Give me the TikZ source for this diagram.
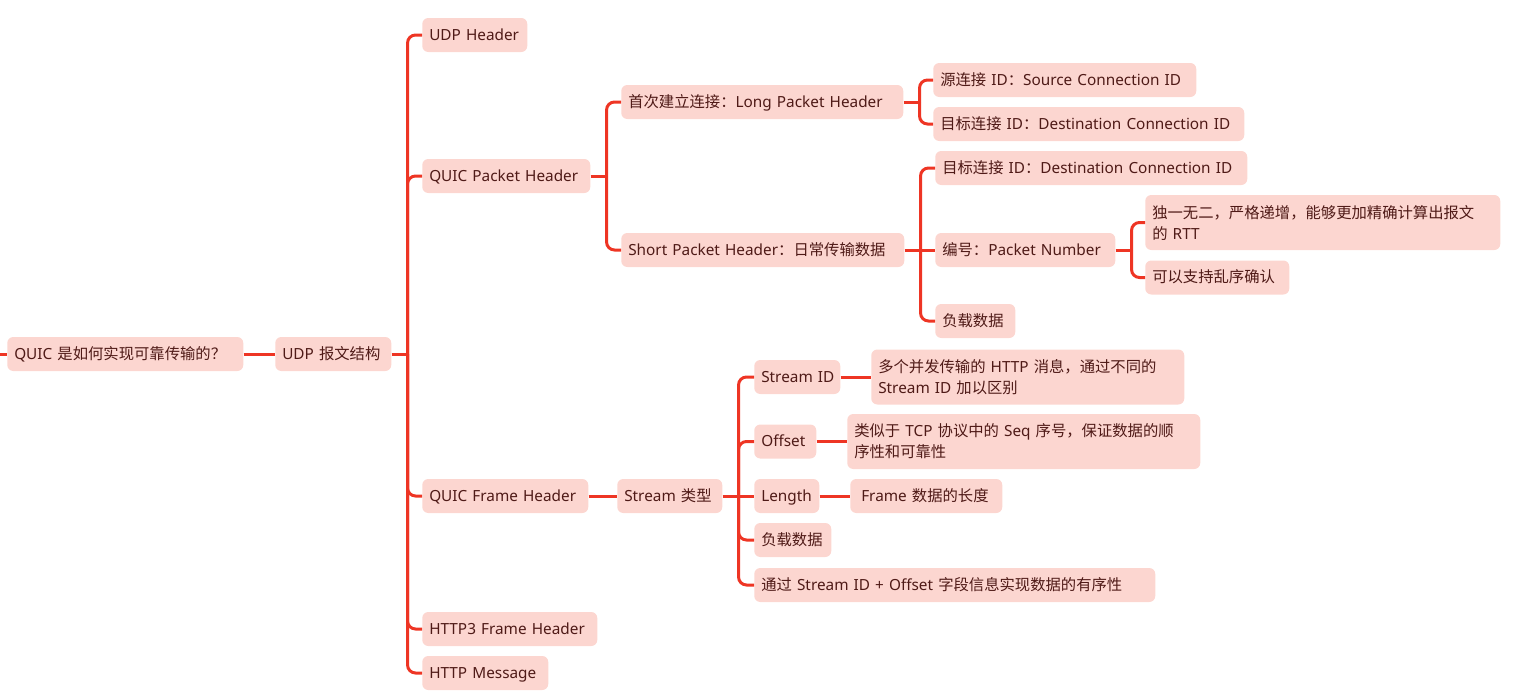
\documentclass[tikz,border=0pt]{standalone}
\usepackage{fontspec}
\setmainfont{Noto Sans}
\newfontfamily\cjk{Noto Sans CJK SC}
\definecolor{nodefill}{HTML}{FCD6D0}
\definecolor{nodetext}{HTML}{4F1A17}
\definecolor{linkred}{HTML}{EE3524}
\newcommand{\zh}[1]{{\cjk #1}}
\newcommand{\mapfont}{\fontsize{11.5}{15.75}\selectfont}

\begin{document}
\begin{tikzpicture}[x=0.75pt, y=-0.75pt,
    topic/.style={fill=nodefill, text=nodetext, font=\mapfont, rounded corners=4.5pt,
      anchor=west, align=left, inner xsep=5.25pt, inner ysep=0pt,
      minimum height=25.5pt, text height=9.2pt, text depth=1pt, text width=#1},
    note/.style={fill=nodefill, text=nodetext, font=\mapfont, rounded corners=4.5pt,
      anchor=west, align=left, inner xsep=5.25pt, inner ysep=0pt,
      minimum height=41.25pt, text width=#1},
    link/.style={linkred, line width=2.25pt, rounded corners=6pt}]
    \useasboundingbox (0,0) rectangle (1524,696);

    % root and first level
    \coordinate (in) at (0,354);
    \node[topic=166.5pt] (root) at (7,354) {QUIC \zh{是如何实现可靠传输的？}};
    \node[topic=76.5pt] (udp) at (275,354) {UDP \zh{报文结构}};
    \node[topic=68.25pt] (udph) at (422,35) {UDP~Header};
    \node[topic=115.5pt] (qph) at (422,176) {QUIC Packet Header};
    \node[topic=114pt] (qfh) at (422,496) {QUIC Frame Header};
    \node[topic=120.75pt] (h3fh) at (422,629) {HTTP3 Frame Header};
    \node[topic=84pt] (hmsg) at (422,673) {HTTP Message};

    % packet header
    \node[topic=201pt] (long) at (621,102) {\zh{首次建立连接：}Long Packet Header};
    \node[topic=201.75pt] (short) at (621,250) {Short Packet Header\zh{：日常传输数据}};
    \node[topic=186.75pt] (srcid) at (933,80) {\zh{源连接} ID\zh{：}Source Connection ID};
    \node[topic=222.75pt] (dstidl) at (933,124) {\zh{目标连接} ID\zh{：}Destination Connection ID};
    \node[topic=223.5pt] (dstids) at (935,168) {\zh{目标连接} ID\zh{：}Destination Connection ID};
    \node[topic=124.5pt] (pnum) at (935,250) {\zh{编号：}Packet Number};
    \node[topic=49.5pt] (payl) at (935,321) {\zh{负载数据}};
    \node[note=255.75pt] (uniq) at (1145,222.5) {\zh{独一无二，严格递增，能够更加精确计算出报文}\\\zh{的} RTT};
    \node[topic=97.5pt] (ooo) at (1145,277.5) {\zh{可以支持乱序确认}};

    % frame header
    \node[topic=68.25pt] (stype) at (617,496) {Stream \zh{类型}};
    \node[topic=54pt] (sid) at (754,377) {Stream~ID};
    \node[topic=36pt] (off) at (754,441.5) {Offset};
    \node[topic=38.25pt] (len) at (754,496) {Length};
    \node[topic=47.25pt] (fpay) at (754,540) {\zh{负载数据}};
    \node[topic=290.25pt] (order) at (754,585) {\zh{通过} Stream ID + Offset \zh{字段信息实现数据的有序性}};
    \node[note=224.25pt] (sidn) at (871,377) {\zh{多个并发传输的} HTTP \zh{消息，通过不同的}\\Stream ID \zh{加以区别}};
    \node[note=254.25pt] (offn) at (847,441.5) {\zh{类似于} TCP \zh{协议中的} Seq \zh{序号，保证数据的顺}\\\zh{序性和可靠性}};
    \node[topic=103.5pt] (lenn) at (850,496) {\hspace*{3pt}Frame \zh{数据的长度}};

    % connectors
    \draw[link] (in) -- (root.west);
    \draw[link] (root.east) -- (udp.west);
    \draw[link] (udp.east) -- ++(12pt,0) coordinate (udp-j);
    \foreach \kid in {udph, qph, qfh, h3fh, hmsg}
      \draw[link] (udp-j) |- (\kid.west);

    \draw[link] (qph.east) -- ++(12pt,0) coordinate (qph-j);
    \foreach \kid in {long, short}
      \draw[link] (qph-j) |- (\kid.west);
    \draw[link] (long.east) -- ++(12pt,0) coordinate (long-j);
    \foreach \kid in {srcid, dstidl}
      \draw[link] (long-j) |- (\kid.west);
    \draw[link] (short.east) -- ++(12pt,0) coordinate (short-j);
    \foreach \kid in {dstids, payl}
      \draw[link] (short-j) |- (\kid.west);
    \draw[link] (short-j) -- (pnum.west);
    \draw[link] (pnum.east) -- ++(12pt,0) coordinate (pnum-j);
    \foreach \kid in {uniq, ooo}
      \draw[link] (pnum-j) |- (\kid.west);

    \draw[link] (qfh.east) -- (stype.west);
    \draw[link] (stype.east) -- ++(12pt,0) coordinate (stype-j);
    \foreach \kid in {sid, off, fpay, order}
      \draw[link] (stype-j) |- (\kid.west);
    \draw[link] (stype-j) -- (len.west);
    \draw[link] (sid.east) -- (sidn.west);
    \draw[link] (off.east) -- (offn.west);
    \draw[link] (len.east) -- (lenn.west);
\end{tikzpicture}
\end{document}
